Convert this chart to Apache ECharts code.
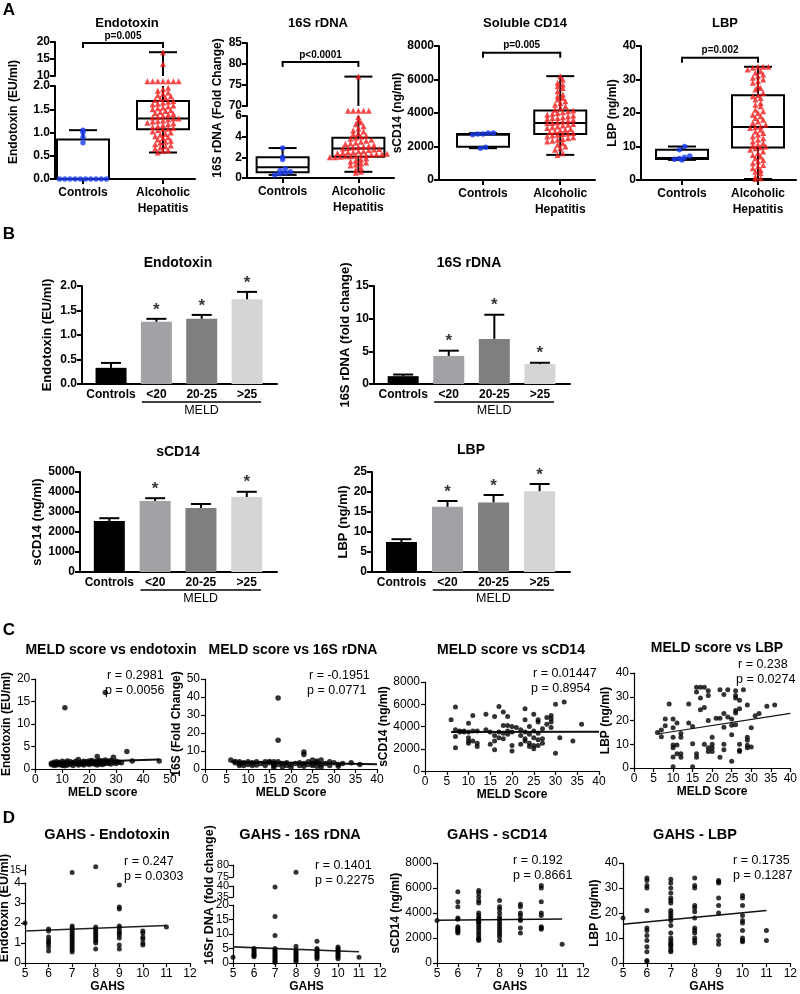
<!DOCTYPE html>
<html><head><meta charset="utf-8">
<script src="https://cdn.jsdelivr.net/npm/echarts@6/dist/echarts.min.js"></script>
<style>html,body{margin:0;padding:0;background:#fff}#c{width:800px;height:994px}</style>
</head><body><div id="c"></div>
<script>
// ================= DATA =================
// Panel A : box plots
const boxCats = ['Controls', 'Alcoholic\nHepatitis'];
const endoCtrl = [0,0,0,0,0,0,0,0,0,0,0.78,0.9,1.0,1.05];
const endoAH = [0.57,0.6,0.62,0.65,0.68,0.7,0.72,0.75,0.78,0.8,0.82,0.85,0.88,0.9,0.92,0.95,0.97,1.0,1.02,1.05,
  1.07,1.08,1.1,1.12,1.14,1.16,1.18,1.2,1.21,1.23,1.25,1.26,1.28,1.3,1.3,1.32,1.34,1.36,1.38,1.4,
  1.42,1.44,1.46,1.48,1.5,1.52,1.54,1.56,1.58,1.6,1.62,1.64,1.66,1.68,1.7,1.72,1.75,1.78,1.8,1.83,
  1.86,1.9,1.93,1.96,2.1,2.1,2.1,2.1,2.1,2.1,2.1,13.5,17];
const endoBox = [[0,0,0,0.85,1.05],[0.57,1.07,1.3,1.68,17]];
const rdnaCtrl = [0.3,0.4,0.5,0.6,0.7,0.9,1.8,2.0,2.9];
const rdnaAH = [0.5,0.6,0.8,1.0,1.2,1.3,1.4,1.5,1.6,1.7,1.8,1.9,2.0,2.0,2.05,2.1,2.1,2.15,2.2,2.2,
  2.25,2.3,2.3,2.35,2.4,2.45,2.5,2.5,2.6,2.6,2.7,2.75,2.8,2.85,2.9,2.95,3.0,3.05,3.1,3.2,
  3.3,3.35,3.4,3.5,3.6,3.7,3.8,3.9,4.0,4.1,4.2,4.3,4.5,4.6,4.8,5.0,5.2,5.4,5.6,5.9,
  6.5,6.5,6.5,6.5,6.5,77];
const rdnaBox = [[0.3,0.55,1.05,2.0,2.9],[0.6,2.05,2.85,3.9,77]];
const cd14Ctrl = [1900,1950,2700,2750,2750,2800,2800];
const cd14AH = [1500,1600,1800,1900,2000,2100,2200,2300,2350,2400,2450,2500,2550,2600,2650,2700,2750,2780,2800,2850,
  2900,2950,3000,3050,3100,3150,3200,3250,3300,3350,3400,3400,3450,3500,3550,3600,3650,3700,3700,3750,
  3800,3850,3900,3950,4000,4050,4100,4150,4200,4300,4400,4500,4600,4700,4800,4900,5000,5100,5300,5500,
  5600,5700,5800,6000,6200];
const cd14Box = [[1900,1980,2700,2750,2800],[1500,2750,3400,4150,6200]];
const lbpCtrl = [6,6.2,6.4,6.8,7.2,9,10];
const lbpAH = [0.3,0.5,1,2,2.5,3,3.5,4,4.5,5,5.5,6,6.5,7,7.5,8,8.5,9,9.5,9.7,10,10.2,10.5,11,11.5,12,12.5,13,13.5,14,
  14.5,15,15.5,15.8,16,16.5,17,17.5,18,18.5,19,19.5,20,20.5,21,22,22.5,23,24,24.5,25,25.3,26,27,27.5,28,29,29.5,30,30.5,
  31,31.5,32,32.5,33,33.5,33.8,33.8,33.8];
const lbpBox = [[6,6.3,6.6,9,10],[0.3,9.7,15.8,25.3,33.8]];
const pTexts = ['p=0.005','p<0.0001','p=0.005','p=0.002'];
const pLevels = [19.7, 80.5, 7600, 36.5];

// Panel B : bar charts
const barCats = ['Controls','<20','20-25','>25'];
const endoMean = [0.33,1.27,1.33,1.73];
const endoErr  = [0.10,0.06,0.08,0.15];
const endoStar = [0,1,1,1];
const rdnaMean = [1.2,4.3,6.9,3.05];
const rdnaErr  = [0.25,0.8,3.7,0.2];
const rdnaStar = [0,1,1,1];
const cd14Mean = [2550,3550,3200,3750];
const cd14Err  = [140,140,200,260];
const cd14Star = [0,1,0,1];
const lbpMean  = [7.5,16.3,17.4,20.2];
const lbpErr   = [0.7,1.45,1.85,1.8];
const lbpStar  = [0,1,1,1];

// Panel C : MELD correlations
const meldEndo = [[6,1.3],[6,1.0],[7,1.5],[7,1.1],[7,0.8],[8,1.2],[8,1.6],[8,0.9],[9,1.4],[9,1.0],[10,1.7],[10,1.2],[10,0.8],[11,13.6],[11,1.5],[11,1.1],[11,0.7],[12,1.3],[12,1.8],[12,0.9],[13,1.6],[13,1.1],[14,1.4],[14,0.8],[15,1.2],[15,1.7],[16,2.1],[16,1.3],[16,0.9],[17,1.5],[17,1.1],[18,1.7],[18,1.3],[18,0.9],[19,1.6],[19,1.2],[20,1.8],[20,1.4],[20,1.0],[21,1.5],[21,1.2],[21,1.9],[22,1.6],[22,1.1],[22,1.4],[23,2.8],[23,1.7],[23,1.3],[23,0.9],[24,1.5],[24,1.9],[24,1.1],[25,1.8],[25,1.4],[25,1.0],[26,17.0],[26,1.6],[26,1.2],[26,2.0],[27,1.7],[27,1.3],[28,1.5],[28,1.9],[28,1.1],[29,2.6],[29,1.4],[30,1.7],[30,1.2],[31,1.5],[32,1.4],[34,3.9],[36,1.8],[46,1.8]];
const meldRdna = [[6,5],[7,4.2],[7,3.5],[8,3],[8,4],[8,2],[9,3.5],[9,2],[10,4],[10,2.5],[11,3.5],[11,2],[12,4],[12,2.2],[13,3],[14,4],[14,2],[15,3.5],[15,4.2],[16,2],[16,3],[16,1],[16,4],[17,39.5],[17,16],[17,4],[17,2.5],[18,3],[18,1.2],[19,2],[19,3.5],[20,2.5],[20,1],[21,3],[22,2],[22,3.5],[23,9.5],[23,8],[23,3],[23,1.5],[24,2.5],[24,4],[25,3],[25,5],[25,2],[26,4.5],[26,1.5],[26,3.5],[27,5],[27,2.5],[27,1],[28,3],[29,2],[29,4],[30,3.5],[31,2.5],[31,1.5],[32,3],[34,3.5],[36,2.5]];
const meldCd14 = [[6,4600],[7,5750],[7,3700],[7,3100],[7,2100],[8,3600],[8,3500],[9,3500],[9,3600],[10,4300],[10,3500],[10,3000],[10,2700],[10,2500],[11,5000],[11,3600],[11,2700],[12,3600],[12,2500],[12,2200],[14,5100],[14,3700],[15,3500],[15,2400],[16,4900],[16,3200],[16,2700],[16,1900],[17,5800],[17,3500],[17,3000],[18,5300],[18,4100],[18,3400],[18,2900],[19,4900],[19,4100],[19,3600],[19,3300],[20,4000],[20,3500],[20,2300],[20,1800],[21,3900],[22,3700],[22,3200],[22,2400],[23,5600],[23,4600],[23,3500],[23,2900],[23,2700],[24,4000],[24,3300],[24,2500],[24,2200],[25,5100],[25,3600],[25,3000],[25,2300],[25,2000],[26,4600],[26,4400],[26,3400],[26,2800],[26,2300],[27,3800],[27,2900],[27,2500],[28,4800],[28,4200],[29,5000],[29,4700],[29,4400],[29,3900],[30,6000],[30,1600],[31,3000],[32,6200],[34,2700],[36,4200]];
const meldLbp = [[6,14.9],[7,13.2],[7,16],[9,27],[8,20.6],[8,17.8],[10,20.6],[10,17],[10,13],[10,9.7],[10,8.5],[10,4.6],[10,0.5],[11,19],[11,9.7],[11,6],[12,13],[12,14.5],[12,6],[12,4.5],[14,27],[14,19],[15,17.5],[15,10.2],[15,0.5],[16,6],[16,4.5],[16,34],[16,32],[17,34],[18,34],[17,29.5],[17,24.5],[18,25.5],[19,32.5],[19,30.5],[18,10],[19,20],[19,7],[19,8.5],[20,13],[20,8.5],[20,10],[20,7],[21,21],[22,33],[22,21],[22,4.5],[23,31],[23,22.9],[23,17.2],[23,10],[23,7.7],[24,33],[24,21.5],[25,14],[25,2.8],[25,20.6],[25,18],[26,32.5],[26,30.5],[26,29.5],[26,24.2],[26,23.2],[26,18.2],[27,28.5],[27,25],[27,10],[27,7.5],[27,7],[28,33],[29,26.5],[29,13],[29,11.7],[29,9.6],[29,8.5],[30,17],[30,8.8],[31,22],[32,23],[34,26],[36,26.5]];
const fitMeldEndo = [[6,1.4],[46,2.1]];
const fitMeldRdna = [[6,4.0],[40,2.7]];
const fitMeldCd14 = [[6,3500],[40,3520]];
const fitMeldLbp  = [[6,14.3],[40,23]];
const corrMeld = [['r = 0.2981','p = 0.0056'],['r = -0.1951','p = 0.0771'],['r = 0.01447','p = 0.8954'],['r = 0.238','p = 0.0274']];

// Panel D : GAHS correlations
const gahsEndo = [[5,2.0],[6,1.7],[6,1.6],[6,1.3],[6,1.15],[6,1.05],[6,0.95],[6,0.8],[6,0.6],[7,13.5],[7,1.85],[7,1.75],[7,1.65],[7,1.55],[7,1.45],[7,1.35],[7,1.25],[7,1.15],[7,1.05],[7,0.95],[7,0.85],[7,0.75],[7,0.65],[7,0.55],[8,17],[8,1.8],[8,1.7],[8,1.6],[8,1.5],[8,1.4],[8,1.3],[8,1.2],[8,1.1],[8,1.0],[8,0.7],[9,3.9],[9,2.8],[9,2.7],[9,1.85],[9,1.75],[9,1.6],[9,1.5],[9,1.4],[9,1.25],[9,0.9],[9,0.7],[10,1.6],[10,1.5],[10,1.3],[10,1.2],[10,1.0],[10,0.9],[11,1.8]];
const gahsRdna = [[5,2],[6,5],[6,4.5],[6,4],[6,3.5],[6,3],[6,2.5],[6,2.2],[7,39.5],[7,16],[7,9.5],[7,5],[7,4.5],[7,4],[7,3.5],[7,3],[7,2.5],[7,2],[7,1.5],[7,1],[7,0.5],[7,0.2],[8,77],[8,5.8],[8,4.5],[8,4],[8,3.5],[8,3],[8,2.5],[8,2],[8,1.5],[8,1],[8,0.5],[9,7.5],[9,5],[9,4.5],[9,4],[9,3.5],[9,3],[9,2.5],[9,2],[9,1.5],[10,5.5],[10,5],[10,4.5],[10,4],[10,3.5],[10,3],[10,2.5],[10,2],[10,1.5],[11,2]];
const gahsCd14 = [[5,3400],[6,5700],[6,4900],[6,4500],[6,3600],[6,3500],[6,2900],[6,2800],[6,2700],[6,2600],[6,2500],[6,2400],[7,5800],[7,5600],[7,5300],[7,5000],[7,4800],[7,4000],[7,3800],[7,3600],[7,3500],[7,3400],[7,3300],[7,3200],[7,3000],[7,2800],[7,2600],[7,2400],[7,2200],[7,2000],[7,1900],[7,1800],[8,5000],[8,4500],[8,4300],[8,4000],[8,3700],[8,3500],[8,3300],[8,3100],[8,2900],[8,2700],[8,2500],[8,2300],[8,2100],[8,1800],[9,4700],[9,4500],[9,4000],[9,3800],[9,3500],[9,3400],[9,2800],[9,2400],[10,6200],[10,6000],[10,4900],[10,4000],[10,3800],[10,2900],[10,2800],[10,2700],[11,1500]];
const gahsLbp = [[5,18],[6,34],[6,33],[6,31],[6,30],[6,21],[6,14],[6,13],[6,11],[6,9],[6,6.5],[6,4.5],[6,1],[6,0.5],[7,33.5],[7,32],[7,30],[7,28],[7,26],[7,25],[7,24],[7,21],[7,20],[7,19],[7,18],[7,17],[7,15],[7,12],[7,10],[7,9],[7,8],[7,7.5],[7,7],[7,6],[7,5],[7,4.5],[8,34],[8,31],[8,30],[8,23],[8,22],[8,20.5],[8,18],[8,14],[8,13],[8,12],[8,10],[8,9],[8,8],[9,33],[9,32.5],[9,32],[9,26],[9,23],[9,20],[9,11],[9,9],[9,7.5],[10,27],[10,26],[10,23],[10,19],[10,17],[10,16],[10,13],[10,10],[10,9],[10,8.5],[11,13],[11,9]];
const fitGahsEndo = [[5,1.6],[11,1.88]];
const fitGahsRdna = [[5,5.6],[11,3.9]];
const fitGahsCd14 = [[5,3420],[11,3520]];
const fitGahsLbp  = [[5,15.5],[11,21]];
const corrGahs = [['r = 0.247','p = 0.0303'],['r = 0.1401','p = 0.2275'],['r = 0.192','p = 0.8661'],['r = 0.1735','p = 0.1287']];

// ================= BUILD =================
const FF = '"Liberation Sans", Arial, Helvetica, sans-serif';
const chart = echarts.init(document.getElementById('c'), null, {width:800, height:994});
const grids = [], xAxis = [], yAxis = [], series = [], gfx = [];
const BOLD = {lw:2, fw:'bold', fs:12, tick:5};
const THIN = {lw:1.2, fw:'normal', fs:12, tick:4};

function vAxis(p, o) {
  const ax = {type:'value', min:o.min, max:o.max, splitLine:{show:false},
    axisLine:{show:true, onZero:false, lineStyle:{color:'#000', width:p.lw}},
    axisTick:{show:o.tick !== false, length:p.tick, lineStyle:{color:'#000', width:p.lw}},
    axisLabel:{show:o.label !== false, color:'#000', fontFamily:FF, fontSize:o.fs || p.fs, fontWeight:p.fw,
      margin:o.margin || 5, hideOverlap:false, formatter:o.fmt || (v => String(v))}};
  if (o.interval != null) ax.interval = o.interval;
  if (o.custom) { ax.axisTick.customValues = o.custom; ax.axisLabel.customValues = o.custom; }
  if (o.lh) ax.axisLabel.lineHeight = o.lh;
  if (o.name) { ax.name = o.name; ax.nameLocation = 'middle'; ax.nameGap = o.gap;
    ax.nameTextStyle = {fontFamily:FF, fontSize:o.nfs || 12, fontWeight:'bold', color:'#000'}; }
  if (o.hidden) ax.show = false;
  return ax;
}
function addGrid(r, xo, yo) {
  const g = grids.length;
  grids.push({left:r[0], top:r[1], width:r[2], height:r[3]});
  xAxis.push(Object.assign({gridIndex:g}, xo));
  yAxis.push(Object.assign({gridIndex:g}, yo));
  return g;
}
function text(x, y, t, font, align, rot) {
  gfx.push({type:'text', x:x, y:y, rotation:rot || 0, silent:true,
    style:{text:t, font:font, fill:'#000', textAlign:align || 'center', textVerticalAlign:'middle'}});
}
function hline(x1, y1, x2, y2, w) {
  gfx.push({type:'line', silent:true, shape:{x1:x1, y1:y1, x2:x2, y2:y2}, style:{stroke:'#000', lineWidth:w || 1.5}});
}

// ---- box plot helper ----
function boxSeries(g, boxes, yMin, yMax) {
  series.push({type:'custom', xAxisIndex:g, yAxisIndex:g, z:2, clip:false,
    data: boxes.map((b, i) => [i].concat(b)), encode:{x:0, y:[1,2,3,4,5]},
    renderItem: function (params, api) {
      const x = api.value(0);
      const v = [1,2,3,4,5].map(k => api.value(k));
      const cl = y => Math.max(yMin, Math.min(yMax, y));
      const py = y => api.coord([x, cl(y)])[1];
      const cx = api.coord([x, yMin])[0];
      const bw = 26, cw = 14, st = {stroke:'#000', lineWidth:2, fill:'none'};
      const ch = [];
      const seg = (a, b) => { if (b < yMin || a > yMax) return; ch.push({type:'line', shape:{x1:cx, y1:py(a), x2:cx, y2:py(b)}, style:st}); };
      const cap = y => { if (y < yMin || y > yMax) return; ch.push({type:'line', shape:{x1:cx-cw, y1:py(y), x2:cx+cw, y2:py(y)}, style:st}); };
      seg(v[0], v[1]); seg(v[3], v[4]); cap(v[0]); cap(v[4]);
      if (!(v[3] < yMin || v[1] > yMax)) {
        const a = py(v[1]), b = py(v[3]);
        ch.push({type:'rect', shape:{x:cx-bw, y:Math.min(a,b), width:2*bw, height:Math.abs(a-b)}, style:st});
      }
      if (v[2] >= yMin && v[2] <= yMax) ch.push({type:'line', shape:{x1:cx-bw, y1:py(v[2]), x2:cx+bw, y2:py(v[2])}, style:st});
      return {type:'group', children:ch};
    }});
}
// ---- beeswarm scatter: horizontal spread of points that share a row ----
function swarm(g, cat, vals, yMin, yMax, hPx, sym, color) {
  const rows = {};
  vals.slice().sort((a,b) => a-b)
    .forEach(v => { const k = Math.round((v - yMin) / (yMax - yMin) * hPx / 4.5); (rows[k] = rows[k] || []).push(v); });
  const data = [];
  Object.keys(rows).forEach(k => rows[k].forEach((v, i) => data.push({value:[cat, v], symbolOffset:[(i - (rows[k].length - 1) / 2) * 5.2, 0]})));
  series.push({type:'scatter', xAxisIndex:g, yAxisIndex:g, z:4, clip:false, symbol:sym, symbolSize:sym === 'triangle' ? 6 : 5.5,
    itemStyle:{color:color}, data:data});
}
function boxPanel(opts) {
  const xo = {min:opts.xr[0], max:opts.xr[1], custom:[0,1], fmt:v => boxCats[v], lh:16, margin:6};
  const gl = addGrid(opts.lower, vAxis(BOLD, xo), vAxis(BOLD, Object.assign({}, opts.yl)));
  const hL = opts.lower[3];
  boxSeries(gl, opts.box, opts.yl.min, opts.yl.max);
  const inLower = v => !opts.yu || v < opts.yu.min;
  swarm(gl, 0, opts.ctrl.filter(inLower), opts.yl.min, opts.yl.max, hL, 'circle', '#1a3cf2');
  swarm(gl, 1, opts.ah.filter(inLower), opts.yl.min, opts.yl.max, hL, 'triangle', '#f21c1c');
  let gu = null;
  if (opts.yu) {
    gu = addGrid(opts.upper, vAxis(BOLD, {min:opts.xr[0], max:opts.xr[1], hidden:true}), vAxis(BOLD, opts.yu));
    boxSeries(gu, opts.box, opts.yu.min, opts.yu.max);
    swarm(gu, 0, opts.ctrl.filter(v => !inLower(v)), opts.yu.min, opts.yu.max, opts.upper[3], 'circle', '#1a3cf2');
    swarm(gu, 1, opts.ah.filter(v => !inLower(v)), opts.yu.min, opts.yu.max, opts.upper[3], 'triangle', '#f21c1c');
  }
  return {gl:gl, gu:gu};
}

// ===== Panel A =====
const A1 = boxPanel({lower:[55,86,140,93], upper:[55,42,140,34], xr:[-0.35,1.4],
  yl:{min:0, max:2, interval:0.5, fmt:v => v.toFixed(1)}, yu:{min:10, max:20, interval:5},
  ctrl:endoCtrl, ah:endoAH, box:endoBox});
const A2 = boxPanel({lower:[247,116,147,62], upper:[247,43,147,63], xr:[-0.47,1.47],
  yl:{min:0, max:6, interval:2}, yu:{min:70, max:85, interval:5},
  ctrl:rdnaCtrl, ah:rdnaAH, box:rdnaBox});
const A3 = boxPanel({lower:[439,46,156,134], xr:[-0.57,1.45],
  yl:{min:0, max:8000, interval:2000, name:'sCD14 (ng/ml)', gap:24},
  ctrl:cd14Ctrl, ah:cd14AH, box:cd14Box});
const A4 = boxPanel({lower:[641,46,155,134], xr:[-0.54,1.5],
  yl:{min:0, max:40, interval:10, name:'LBP (ng/ml)', gap:20},
  ctrl:lbpCtrl, ah:lbpAH, box:lbpBox});
text(14, 112, 'Endotoxin (EU/ml)', 'bold 12px ' + FF, 'center', Math.PI / 2);
text(218, 108, '16S rDNA (Fold Change)', 'bold 12px ' + FF, 'center', Math.PI / 2);
const boxTitles = [['Endotoxin',127],['16S rDNA',318],['Soluble CD14',525],['LBP',725]];
boxTitles.forEach(t => text(t[1], 23, t[0], 'bold 13px ' + FF));
text(9, 10, 'A', 'bold 17px ' + FF);

// ===== Panel B =====
const barColors = ['#000000','#a2a2a6','#7f7f7f','#d5d5d5'];
function barPanel(rect, yo, mean, err, star) {
  const g = addGrid(rect,
    vAxis(BOLD, {min:-0.64, max:3.66, custom:[0,1,2,3], fmt:v => barCats[v], tick:false, margin:5}),
    vAxis(BOLD, yo));
  series.push({type:'bar', xAxisIndex:g, yAxisIndex:g, barWidth:31, z:2,
    data: mean.map((m, i) => ({value:[i, m], itemStyle:{color:barColors[i]}}))});
  series.push({type:'custom', xAxisIndex:g, yAxisIndex:g, z:3, encode:{x:0, y:[1,2]},
    data: mean.map((m, i) => [i, m, err[i]]),
    renderItem: function (params, api) {
      const x = api.value(0), m = api.value(1), e = api.value(2);
      const p1 = api.coord([x, m]), p2 = api.coord([x, m + e]);
      const st = {stroke:'#000', lineWidth:2};
      return {type:'group', children:[
        {type:'line', shape:{x1:p1[0], y1:p1[1], x2:p2[0], y2:p2[1]}, style:st},
        {type:'line', shape:{x1:p2[0]-10, y1:p2[1], x2:p2[0]+10, y2:p2[1]}, style:st}]};
    }});
  series.push({type:'scatter', xAxisIndex:g, yAxisIndex:g, z:4, symbolSize:1, itemStyle:{color:'rgba(0,0,0,0)'},
    data: mean.map((m, i) => [i, m + err[i]]).filter((d, i) => star[i]),
    label:{show:true, position:'top', distance:0, formatter:'*', fontSize:17, fontWeight:'bold', color:'#000', fontFamily:FF}});
  return g;
}
const B1 = barPanel([82,286,195,98], {min:0, max:2, interval:0.5, fmt:v => v.toFixed(1), name:'Endotoxin (EU/ml)', gap:28, nfs:13}, endoMean, endoErr, endoStar);
const B2 = barPanel([374,286,196,98], {min:0, max:15, interval:5, name:'16S rDNA (fold change)', gap:22, nfs:13}, rdnaMean, rdnaErr, rdnaStar);
const B3 = barPanel([80,472,197,100], {min:0, max:5000, interval:1000, name:'sCD14 (ng/ml)', gap:34, nfs:13}, cd14Mean, cd14Err, cd14Star);
const B4 = barPanel([372,472,198,100], {min:0, max:25, interval:5, name:'LBP (ng/ml)', gap:22, nfs:13}, lbpMean, lbpErr, lbpStar);
const barTitles = [['Endotoxin',178,263],['16S rDNA',469,263],['sCD14',178,452],['LBP',471,450]];
barTitles.forEach(t => text(t[1], t[2], t[0], 'bold 14px ' + FF));
text(9, 234, 'B', 'bold 17px ' + FF);

// ===== Panel C =====
function scatPanel(rect, xo, yo, pts, fit, dotSize, fitW) {
  const g = addGrid(rect, vAxis(THIN, xo), vAxis(THIN, yo));
  series.push({type:'scatter', xAxisIndex:g, yAxisIndex:g, symbolSize:dotSize || 5, itemStyle:{color:'#000'}, data:pts, z:3});
  if (fit) series.push({type:'line', xAxisIndex:g, yAxisIndex:g, symbol:'none', data:fit, z:2,
    lineStyle:{color:'#111', width:fitW || 1.6}});
  return g;
}
const C1 = scatPanel([32,679,138,90], {min:0, max:50, interval:10, name:'MELD score', gap:17},
  {min:0, max:20, interval:5, name:'Endotoxin (EU/ml)', gap:14}, meldEndo, fitMeldEndo, 5.5, 2);
const C2 = scatPanel([205,679,172,90], {min:0, max:40, interval:5, name:'MELD Score', gap:17},
  {min:0, max:50, interval:10, name:'16S (Fold Change)', gap:14}, meldRdna, fitMeldRdna, 5.5, 2);
const C3 = scatPanel([425,682,174,89], {min:0, max:40, interval:5, name:'MELD Score', gap:17},
  {min:0, max:8000, interval:2000, name:'sCD14 (ng/ml)', gap:27}, meldCd14, fitMeldCd14, 5, 2);
const C4 = scatPanel([634,673,163,95], {min:0, max:40, interval:5, name:'MELD Score', gap:18},
  {min:0, max:40, interval:10, name:'LBP (ng/ml)', gap:15}, meldLbp, fitMeldLbp, 5, 1.1);
const meldTitles = [['MELD score vs endotoxin',111,650],['MELD score vs 16S rDNA',293,650],['MELD score vs sCD14',511,650],['MELD score vs LBP',717,648]];
meldTitles.forEach(t => text(t[1], t[2], t[0], 'bold 14px ' + FF));
const meldCorrPos = [[107,676],[309,676],[533,674],[738,665]];
corrMeld.forEach((c, i) => { text(meldCorrPos[i][0], meldCorrPos[i][1], c[0], '12.5px ' + FF, 'left');
  text(meldCorrPos[i][0] - 2, meldCorrPos[i][1] + 15, c[1], '12.5px ' + FF, 'left'); });
text(9, 630, 'C', 'bold 17px ' + FF);

// ===== Panel D =====
function brokenScat(rects, ranges, xo, pts, fit, yName, nameX, nameY, labelFs) {
  // rects / ranges ordered bottom -> top
  const gs = [];
  rects.forEach((r, k) => {
    const lowest = k === 0;
    const yr = ranges[k];
    const g = addGrid(r, vAxis(THIN, lowest ? xo : {min:xo.min, max:xo.max, hidden:true}),
      vAxis(THIN, {min:yr[0], max:yr[1], interval:yr[2], margin:4, fs: lowest ? 12 : labelFs}));
    series.push({type:'scatter', xAxisIndex:g, yAxisIndex:g, symbolSize:5, itemStyle:{color:'#000'}, z:3,
      data: pts.filter(p => (lowest || p[1] >= yr[0]) && (k === rects.length - 1 || p[1] < ranges[k + 1][0]) && p[1] <= yr[1] * 1.02)});
    if (lowest && fit) series.push({type:'line', xAxisIndex:g, yAxisIndex:g, symbol:'none', data:fit, z:2, lineStyle:{color:'#222', width:1.6}});
    gs.push(g);
  });
  text(nameX, nameY, yName, 'bold 12.5px ' + FF, 'center', Math.PI / 2);
  return gs;
}
const gx = {min:5, max:12, interval:1, name:'GAHS', gap:15};
const D1 = brokenScat([[25,883,165,82],[25,865,165,10]], [[0,4,1],[12,18,3]], gx, gahsEndo, fitGahsEndo, 'Endotoxin (EU/ml)', 5, 908, 10);
const D2 = brokenScat([[233,905,147,60],[233,886,147,11],[233,865,147,12]], [[0,20,5],[35,40,5],[75,80,5]], gx, gahsRdna, fitGahsRdna, '16Sr DNA (fold change)', 210, 895, 11);
const D3 = scatPanel([437,863,146,103], gx, {min:0, max:8000, interval:2000, name:'sCD14 (ng/ml)', gap:27}, gahsCd14, fitGahsCd14);
const D4 = scatPanel([623,863,174,103], gx, {min:0, max:40, interval:10, name:'LBP (ng/ml)', gap:15}, gahsLbp, fitGahsLbp);
const gahsTitles = [['GAHS - Endotoxin',107,835],['GAHS - 16S rDNA',300,835],['GAHS - sCD14',497,835],['GAHS - LBP',695,835]];
gahsTitles.forEach(t => text(t[1], t[2], t[0], 'bold 14.5px ' + FF));
const gahsCorrPos = [[124,862],[315,866],[513,861],[733,861]];
corrGahs.forEach((c, i) => { text(gahsCorrPos[i][0], gahsCorrPos[i][1], c[0], '12.5px ' + FF, 'left');
  text(gahsCorrPos[i][0], gahsCorrPos[i][1] + 15, c[1], '12.5px ' + FF, 'left'); });
text(9, 818, 'D', 'bold 17px ' + FF);

chart.setOption({animation:false, backgroundColor:'#fff', textStyle:{fontFamily:FF},
  grid:grids, xAxis:xAxis, yAxis:yAxis, series:series});

// ---- annotations positioned through the chart's own coordinate systems ----
const px = (g, x, y) => chart.convertToPixel({gridIndex:g}, [x, y]);
const pGrids = [A1.gu, A2.gu, A3.gl, A4.gl];
pGrids.forEach((g, i) => {
  const a = px(g, 0, pLevels[i]), b = px(g, 1, pLevels[i]);
  hline(a[0], a[1], b[0], b[1], 2); hline(a[0], a[1] - 1, a[0], a[1] + 5, 2); hline(b[0], b[1] - 1, b[0], b[1] + 5, 2);
  text((a[0] + b[0]) / 2, a[1] - 7, pTexts[i], 'bold 10px ' + FF);
});
[B1, B2, B3, B4].forEach(g => {
  const a = px(g, 0.68, 0), b = px(g, 3.31, 0);
  hline(a[0], a[1] + 18, b[0], b[1] + 18, 1.5);
  text((a[0] + b[0]) / 2, a[1] + 27, 'MELD', '12.5px ' + FF);
});
chart.setOption({graphic:{elements:gfx}});
</script></body></html>
